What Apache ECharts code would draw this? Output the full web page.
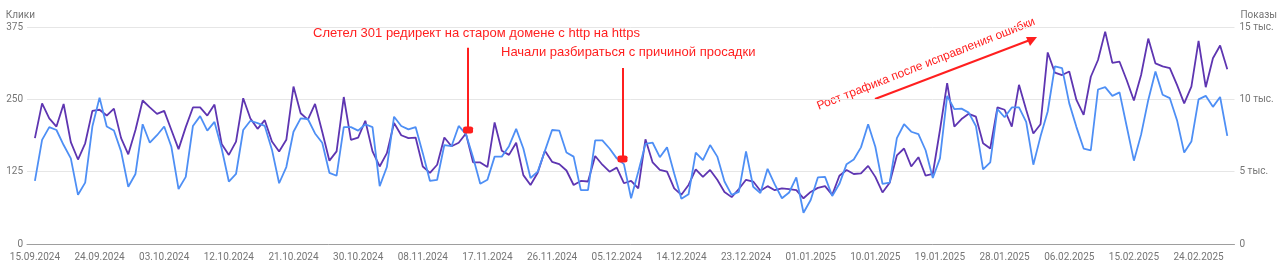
<!DOCTYPE html>
<html style="height: 100%">
<head>
    <meta charset="utf-8">
    <title>Клики и показы</title>
    <style>body{margin:0;background:#fff}</style>
</head>
<body style="height: 100%">
    <div id="container" style="width:1280px;height:271px"></div>
    <script type="text/javascript" src="https://cdn.jsdelivr.net/npm/echarts@6/dist/echarts.min.js"></script>
    <script type="text/javascript">
        // daily data, 15.09.2024 .. 28.02.2025
        var startDate = '2024-09-15';
        var dayCount  = 167;

        var tickLabels = ['15.09.2024', '24.09.2024', '03.10.2024', '12.10.2024', '21.10.2024',
            '30.10.2024', '08.11.2024', '17.11.2024', '26.11.2024', '05.12.2024', '14.12.2024',
            '23.12.2024', '01.01.2025', '10.01.2025', '19.01.2025', '28.01.2025', '06.02.2025',
            '15.02.2025', '24.02.2025'];

        var clicks = [
            109, 180, 202, 197, 171, 148, 85, 106, 203, 253, 203, 196, 160, 99, 121, 207, 175,
            188, 203, 168, 95, 116, 204, 221, 196, 211, 165, 108, 121, 197, 213, 209, 204, 163,
            105, 133, 194, 217, 216, 191, 175, 123, 118, 202, 202, 196, 207, 202, 100, 133, 220,
            204, 198, 202, 157, 109, 111, 171, 169, 204, 190, 150, 104, 111, 151, 151, 169, 199,
            165, 114, 125, 161, 197, 196, 158, 151, 93, 93, 179, 179, 165, 148, 138, 79, 125,
            173, 175, 150, 167, 122, 78, 86, 158, 145, 171, 151, 108, 85, 90, 160, 99, 88, 130,
            103, 79, 89, 115, 54, 76, 115, 116, 83, 104, 138, 146, 167, 207, 168, 104, 106, 183,
            207, 194, 190, 162, 114, 148, 256, 233, 234, 227, 204, 129, 141, 233, 219, 236, 236,
            211, 137, 186, 229, 307, 304, 243, 202, 165, 162, 267, 271, 256, 262, 203, 144, 189,
            249, 298, 258, 252, 214, 158, 177, 250, 256, 237, 254, 187
        ];

        var impressions = [
            7320, 9720, 8680, 8120, 9680, 7040, 5840, 6960, 9200, 9280, 8880, 9360, 7320, 6200,
            7880, 9920, 9440, 9000, 9200, 7880, 6560, 8080, 9440, 9440, 8880, 9640, 6920, 6160,
            7080, 10080, 8680, 7960, 8560, 7080, 6400, 7200, 10880, 9040, 8600, 9680, 7760, 5760,
            6400, 10160, 7200, 7360, 8520, 6400, 5360, 6280, 8360, 7520, 7320, 7360, 5360, 4920,
            5480, 7360, 6760, 7000, 7640, 5640, 5640, 5320, 8400, 6440, 6160, 7000, 4760, 4080,
            4920, 6440, 5680, 5520, 5080, 4080, 4360, 4320, 6080, 5480, 5000, 5280, 4200, 4360,
            3840, 7240, 5640, 5120, 5000, 3840, 3400, 4080, 5160, 4640, 5120, 4440, 3600, 3240,
            3800, 4440, 4320, 3680, 4000, 3720, 3840, 3800, 3720, 3160, 3600, 3880, 4000, 3400,
            4720, 5120, 4840, 4880, 5400, 4640, 3560, 4240, 6120, 6600, 5360, 6000, 4720, 4840,
            7880, 11120, 8120, 8640, 9000, 8800, 6960, 6600, 9440, 9280, 8120, 11000, 9280, 7640,
            8280, 13240, 11840, 11680, 11920, 9960, 8920, 11560, 12720, 14680, 12520, 12600,
            11320, 9920, 11680, 14200, 12480, 12280, 12160, 11000, 9720, 10880, 14040, 10840,
            12840, 13720, 12080
        ];

        // annotation pins: [day index, top (clicks), bottom (clicks)]
        var pins = [[60.3, 339, 197], [81.8, 304, 147]];

        function pad(n) { return n < 10 ? '0' + n : '' + n; }
        var dates = [];
        var d0 = new Date(startDate + 'T00:00:00Z');
        for (var i = 0; i < dayCount; i++) {
            var d = new Date(d0.getTime() + i * 86400000);
            dates.push(pad(d.getUTCDate()) + '.' + pad(d.getUTCMonth() + 1) + '.' + d.getUTCFullYear());
        }
        var tickIdx = tickLabels.map(function (t) { return dates.indexOf(t); });

        var red    = '#ff1f1f';
        var gray   = '#757575';
        var dom     = document.getElementById('container');
        var myChart = echarts.init(dom);

        var option = {
            animation: false,
            textStyle: {fontFamily: 'Roboto, Arial, sans-serif'},
            grid: {left: 27, right: 37, top: 27, bottom: 27},
            xAxis: {
                type: 'value',
                min: -1.1,
                max: 167,
                axisLine: {show: true, lineStyle: {color: '#9e9e9e', width: 1}},
                axisTick: {show: false},
                splitLine: {show: false},
                axisLabel: {
                    customValues: tickIdx,
                    formatter: function (v) { return dates[Math.round(v)]; },
                    color: gray,
                    fontSize: 10,
                    margin: 8
                }
            },
            yAxis: [{
                type: 'value',
                name: 'Клики',
                nameLocation: 'end',
                nameGap: 7,
                nameTextStyle: {color: gray, fontSize: 10, align: 'right', padding: [0, 0, 0, 0]},
                min: 0, max: 375, interval: 125,
                axisLine: {show: false},
                axisTick: {show: false},
                axisLabel: {color: gray, fontSize: 10, margin: 4},
                splitLine: {lineStyle: {color: '#e6e6e6'}}
            }, {
                type: 'value',
                name: 'Показы',
                nameLocation: 'end',
                nameGap: 7,
                nameTextStyle: {color: gray, fontSize: 10, align: 'left', padding: [0, 0, 0, 6]},
                min: 0, max: 15000, interval: 5000,
                axisLine: {show: false},
                axisTick: {show: false},
                axisLabel: {
                    color: gray, fontSize: 10, margin: 5,
                    formatter: function (v) { return v === 0 ? '0' : (v / 1000) + ' тыс.'; }
                },
                splitLine: {show: false}
            }],
            series: [{
                name: 'Показы',
                type: 'line',
                yAxisIndex: 1,
                symbol: 'none',
                lineStyle: {color: '#5e35b1', width: 1.8},
                itemStyle: {color: '#5e35b1'},
                data: impressions.map(function (v, i) { return [i, v]; })
            }, {
                name: 'Клики',
                type: 'line',
                yAxisIndex: 0,
                symbol: 'none',
                lineStyle: {color: '#4e8ff5', width: 1.8},
                itemStyle: {color: '#4e8ff5'},
                data: clicks.map(function (v, i) { return [i, v]; }),
                markLine: {
                    silent: true,
                    symbol: ['none', 'none'],
                    label: {show: false},
                    lineStyle: {color: red, width: 2, type: 'solid'},
                    data: pins.map(function (p) {
                        return [{coord: [p[0], p[1]]}, {coord: [p[0], p[2]]}];
                    })
                },
                markPoint: {
                    silent: true,
                    symbol: 'roundRect',
                    symbolSize: [10, 7],
                    label: {show: false},
                    itemStyle: {color: red},
                    data: pins.map(function (p) { return {coord: [p[0], p[2]]}; })
                }
            }],
            graphic: [{
                type: 'text', left: 313, top: 27,
                style: {text: 'Слетел 301 редирект на старом домене с http на https', fill: red,
                    font: '13px "Liberation Sans", Arial, sans-serif'}
            }, {
                type: 'text', left: 501, top: 46,
                style: {text: 'Начали разбираться с причиной просадки', fill: red,
                    font: '13px "Liberation Sans", Arial, sans-serif'}
            }, {
                type: 'text', x: 926, y: 64, rotation: 21.5 * Math.PI / 180,
                style: {text: 'Рост трафика после исправления ошибки', fill: red,
                    align: 'center', verticalAlign: 'middle',
                    font: '12px "Liberation Sans", Arial, sans-serif'}
            }, {
                type: 'line',
                shape: {x1: 875, y1: 99, x2: 1030, y2: 40},
                style: {stroke: red, lineWidth: 2}
            }, {
                type: 'polygon',
                shape: {points: [[1037, 37], [1026, 37], [1030, 46]]},
                style: {fill: red}
            }]
        };

        if (option && typeof option === 'object') {
            myChart.setOption(option, true);
        }
    </script>
</body>
</html>
